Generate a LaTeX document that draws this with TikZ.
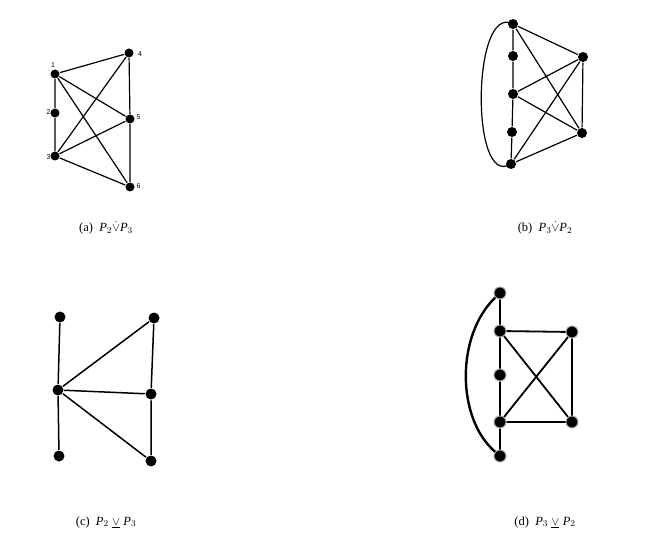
\documentclass[tikz,border=0pt]{standalone}
\usepackage{amssymb}
\usepackage{fontspec}
\setmainfont{Liberation Serif}
\newfontfamily\lblfont{Liberation Sans}
\begin{document}
\begin{tikzpicture}[x=1pt,y=-1pt,
  vtx/.style={circle,fill=black,inner sep=0pt,minimum size=#1},
  vtx/.default=9pt,
  lbl/.style={font=\lblfont\fontsize{7}{8}\selectfont,inner sep=0pt},
  captext/.style={font=\fontsize{12.5}{14}\selectfont,inner sep=0pt}]
\useasboundingbox (0,0) rectangle (656,540);
% ---------- (a)
\begin{scope}[line width=1.2pt]
\node[vtx] (a1) at (55,74) {};
\node[vtx] (a2) at (55,113) {};
\node[vtx] (a3) at (55,156) {};
\node[vtx] (a4) at (129,53) {};
\node[vtx] (a5) at (130,119) {};
\node[vtx] (a6) at (130,187) {};
\draw (a1)--(a2) (a2)--(a3) (a1)--(a4) (a1)--(a5) (a1)--(a6)
      (a3)--(a4) (a3)--(a5) (a3)--(a6) (a4)--(a5) (a5)--(a6);
\node[lbl] (l1) at (53,65) {1};
\node[lbl] (l2) at (48.5,112) {2};
\node[lbl] (l3) at (48.5,157) {3};
\node[lbl] (l4) at (140,54) {4};
\node[lbl] (l5) at (138.5,117) {5};
\node[lbl] (l6) at (138.5,186) {6};
\end{scope}
\node[captext] (capa) at (106,228) {(a)\enspace \textit{P}$_2\dot{\vee}$\textit{P}$_3$};
% ---------- (b)
\begin{scope}[line width=1.2pt]
\node[vtx=10pt] (b1) at (513,24) {};
\node[vtx=10pt] (b2) at (513,56) {};
\node[vtx=10pt] (b3) at (513,94) {};
\node[vtx=10pt] (b4) at (512,132) {};
\node[vtx=10pt] (b5) at (511,164) {};
\node[vtx=10pt] (b6) at (583,57) {};
\node[vtx=10pt] (b7) at (582,133) {};
\draw (b1)--(b2) (b2)--(b3) (b3)--(b4) (b4)--(b5)
      (b1)--(b6) (b1)--(b7) (b3)--(b6) (b3)--(b7) (b5)--(b6) (b5)--(b7) (b6)--(b7);
\draw (b1.center) .. controls (472,2) and (470,190) .. (b5.center);
\end{scope}
\node[captext] (capb) at (545,228) {(b)\enspace \textit{P}$_3\dot{\vee}$\textit{P}$_2$};
% ---------- (c)
\begin{scope}[line width=1.5pt]
\node[vtx=11pt] (c1) at (60,317) {};
\node[vtx=11pt] (c2) at (58,390) {};
\node[vtx=11pt] (c3) at (59,456) {};
\node[vtx=11pt] (c4) at (154,318) {};
\node[vtx=11pt] (c5) at (151,394) {};
\node[vtx=11pt] (c6) at (151,461) {};
\draw (c1)--(c2) (c2)--(c3) (c2)--(c4) (c2)--(c5) (c2)--(c6) (c4)--(c5) (c5)--(c6);
\end{scope}
\node[captext] (capc) at (106,522) {(c)\enspace \textit{P}$_2\;\underline{\vee}\;$\textit{P}$_3$};
% ---------- (d)
\begin{scope}[line width=1.8pt]
\tikzset{dv/.style={vtx=12pt,draw=gray!70,line width=1pt}}
\node[dv] (d1) at (500,293) {};
\node[dv] (d2) at (500,331) {};
\node[dv] (d3) at (500,375) {};
\node[dv] (d4) at (500,422) {};
\node[dv] (d5) at (500,456) {};
\node[dv] (d6) at (572,332) {};
\node[dv] (d7) at (572,422) {};
\draw (d1)--(d2) (d2)--(d3) (d3)--(d4) (d4)--(d5)
      (d2)--(d6) (d4)--(d7) (d6)--(d7) (d2)--(d7) (d4)--(d6);
\draw[line width=2.4pt] (d1) .. controls (456,335) and (456,418) .. (d5);
\end{scope}
\node[captext] (capd) at (545,522) {(d)\enspace \textit{P}$_3\;\underline{\vee}\;$\textit{P}$_2$};
\end{tikzpicture}
\end{document}
